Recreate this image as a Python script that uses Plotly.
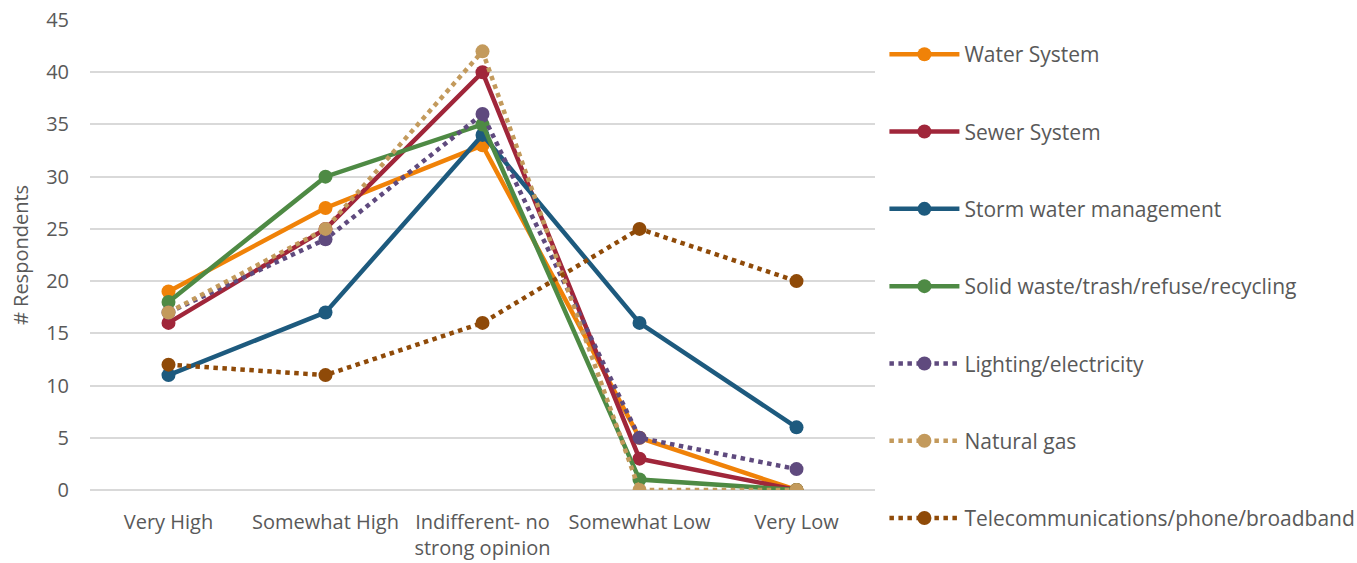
import plotly.graph_objects as go

categories = ["Very High", "Somewhat High", "Indifferent- no<br>strong opinion", "Somewhat Low", "Very Low"]

water_system = [19, 27, 33, 5, 0]
sewer_system = [16, 25, 40, 3, 0]
storm_water = [11, 17, 34, 16, 6]
solid_waste = [18, 30, 35, 1, 0]
lighting = [17, 24, 36, 5, 2]
natural_gas = [17, 25, 42, 0, 0]
telecom = [12, 11, 16, 25, 20]

series = [
    ("Water System", water_system, "#F08208", "solid"),
    ("Sewer System", sewer_system, "#A0263A", "solid"),
    ("Storm water management", storm_water, "#1D5A7E", "solid"),
    ("Solid waste/trash/refuse/recycling", solid_waste, "#4E8A44", "solid"),
    ("Lighting/electricity", lighting, "#5F4A7E", "dot"),
    ("Natural gas", natural_gas, "#C39A5C", "dot"),
    ("Telecommunications/phone/broadband", telecom, "#8F4A08", "dot"),
]

FONT = "Open Sans, Liberation Sans, sans-serif"
TEXT = "#595959"

fig = go.Figure()
for i, (name, vals, color, dash) in enumerate(series):
    fig.add_trace(go.Scatter(
        x=list(range(len(categories))), y=vals, name=name,
        mode="lines+markers",
        line=dict(color=color, width=4.5, dash=dash),
        marker=dict(color=color, size=14),
        legendgroup=f"g{i}",
    ))

fig.update_layout(
    width=1357, height=563,
    margin=dict(l=90, r=482, t=20, b=73, autoexpand=False),
    plot_bgcolor="white", paper_bgcolor="white",
    font=dict(family=FONT, color=TEXT, size=20),
    xaxis=dict(
        tickmode="array", tickvals=list(range(len(categories))), ticktext=categories,
        range=[-0.5, 4.5], showgrid=False, zeroline=False, showline=False,
        tickfont=dict(size=20, color=TEXT), ticklabelstandoff=18,
    ),
    yaxis=dict(
        range=[0, 45], dtick=5, showgrid=True, gridcolor="#D9D9D9", gridwidth=1.5,
        zeroline=True, zerolinecolor="#D9D9D9", zerolinewidth=1.5,
        tickfont=dict(size=20, color=TEXT),
        title=dict(text="# Respondents", font=dict(size=20, color=TEXT), standoff=12),
        ticks="", ticklabelstandoff=20,
    ),
    legend=dict(
        x=1.012, xanchor="left", y=0.97, yanchor="top",
        traceorder="grouped", tracegroupgap=47, maxheight=563,
        itemwidth=70, font=dict(size=21, color=TEXT),
        bgcolor="rgba(0,0,0,0)",
    ),
    showlegend=True,
)

fig.write_html("out.html")
